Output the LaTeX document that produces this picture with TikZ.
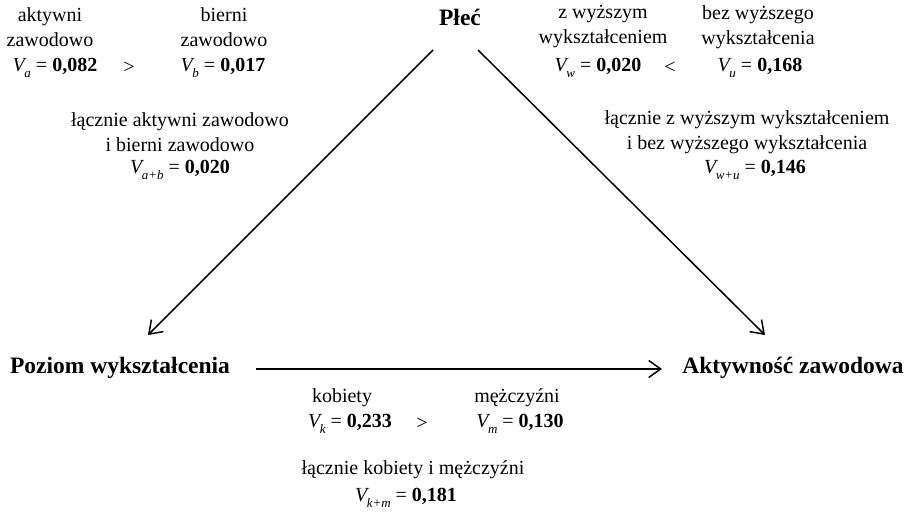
\documentclass[tikz,border=0pt]{standalone}
\usepackage{fontspec}
\setmainfont{Liberation Serif}
\usetikzlibrary{arrows.meta}

% coefficient: italic V with subscript, bold value
\newcommand{\coefV}[2]{\textit{V}\kern-0.12em\raisebox{-0.28em}{\fontsize{13}{13}\selectfont\textit{#1}} = \textbf{#2}}

\begin{document}
\begin{tikzpicture}[x=1pt,y=-1pt,
  txt/.style={font=\fontsize{20}{25}\selectfont, align=center, inner sep=0pt},
  var/.style={font=\fontsize{23.5}{28}\selectfont\bfseries, inner sep=0pt},
  link/.style={line width=1.5pt, -{Straight Barb[length=12pt,width=17pt,line width=1.5pt]}}]
\useasboundingbox (0,0) rectangle (914,514);

% variables
\node[var] (plec) at (460,17) {Płeć};
\node[var] (pw) at (120,368) {Poziom wykształcenia};
\node[var] (az) at (793,368) {Aktywność zawodowa};

% connectors
\coordinate (plecL) at (433,50);
\coordinate (plecR) at (478,50);
\coordinate (pwT) at (148,335);
\coordinate (azT) at (765,335);
\coordinate (pwR) at (256,369);
\coordinate (azL) at (662,369);
\draw[link] (plecL) -- (pwT);
\draw[link] (plecR) -- (azT);
\draw[link] (pwR) -- (azL);

% gender -> education
\node[txt] (akt) at (50,27) {aktywni\\zawodowo};
\node[txt] (bier) at (224,27) {bierni\\zawodowo};
\node[txt] (va) at (55,68) {\coefV{a}{0,082}};
\node[txt] (gt1) at (129,68) {>};
\node[txt] (vb) at (223,68) {\coefV{b}{0,017}};
\node[txt] (lab) at (180,132) {łącznie aktywni zawodowo\\i bierni zawodowo};
\node[txt] (vab) at (180,170) {\coefV{a+b}{0,020}};

% gender -> activity
\node[txt] (wyz) at (603,27) {z wyższym\\wykształceniem};
\node[txt] (bez) at (758,27) {bez wyższego\\wykształcenia};
\node[txt] (vw) at (598,68) {\coefV{w}{0,020}};
\node[txt] (lt1) at (670,68) {<};
\node[txt] (vu) at (760,68) {\coefV{u}{0,168}};
\node[txt] (lwu) at (747,132) {łącznie z wyższym wykształceniem\\i bez wyższego wykształcenia};
\node[txt] (vwu) at (755,170) {\coefV{w+u}{0,146}};

% education -> activity
\node[txt] (kob) at (342,398) {kobiety};
\node[txt] (mez) at (517,398) {mężczyźni};
\node[txt] (vk) at (350,424) {\coefV{k}{0,233}};
\node[txt] (gt2) at (422,424) {>};
\node[txt] (vm) at (520,424) {\coefV{m}{0,130}};
\node[txt] (lkm) at (413,470) {łącznie kobiety i mężczyźni};
\node[txt] (vkm) at (406,498) {\coefV{k+m}{0,181}};
\end{tikzpicture}
\end{document}
